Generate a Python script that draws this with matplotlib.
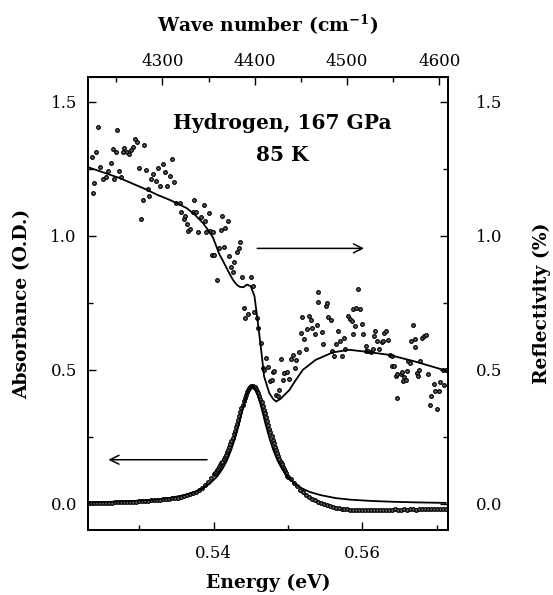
import numpy as np
import matplotlib.pyplot as plt
from matplotlib.ticker import MultipleLocator

plt.rcParams['font.family'] = 'DejaVu Serif'
plt.rcParams['mathtext.fontset'] = 'dejavuserif'

EV_TO_CM = 8065.54

# measured absorbance, sampled on an even energy grid (three segments)
abs_left_start, abs_left_step = 0.5232, 0.0004
abs_left = [0.002, 0.002, 0.003, 0.003, 0.004, 0.004, 0.005, 0.005, 0.005, 0.006,
            0.006, 0.007, 0.007, 0.008, 0.008, 0.009, 0.009, 0.010, 0.010, 0.011,
            0.012, 0.013, 0.014, 0.015, 0.016, 0.017, 0.018, 0.019, 0.021, 0.022,
            0.024, 0.026, 0.029, 0.032, 0.036, 0.040, 0.046, 0.053, 0.061, 0.071,
            0.083, 0.097, 0.112]
abs_peak_start, abs_peak_step = 0.54015, 0.00015
abs_peak = [0.115, 0.120, 0.126, 0.131, 0.138, 0.144, 0.151, 0.158, 0.166, 0.175,
            0.183, 0.193, 0.202, 0.213, 0.224, 0.235, 0.247, 0.260, 0.273, 0.286,
            0.300, 0.314, 0.328, 0.343, 0.357, 0.370, 0.384, 0.396, 0.407, 0.417,
            0.426, 0.432, 0.437, 0.440, 0.440, 0.438, 0.435, 0.429, 0.422, 0.413,
            0.402, 0.391, 0.379, 0.366, 0.352, 0.338, 0.325, 0.311, 0.296, 0.281,
            0.267, 0.252, 0.238, 0.226, 0.213, 0.201, 0.190, 0.178, 0.168, 0.158,
            0.149, 0.139, 0.130, 0.122, 0.114, 0.106, 0.100]
abs_right_start, abs_right_step = 0.5504, 0.0004
abs_right = [0.093, 0.079, 0.066, 0.054, 0.044, 0.035, 0.027, 0.020, 0.014, 0.008,
             0.003, -0.001, -0.005, -0.009, -0.012, -0.014, -0.016, -0.018, -0.019, -0.020,
             -0.021, -0.021, -0.022, -0.022, -0.022, -0.022, -0.021, -0.022, -0.022, -0.021,
             -0.021, -0.022, -0.021, -0.021, -0.021, -0.020, -0.021, -0.021, -0.020, -0.021,
             -0.020, -0.020, -0.021, -0.020, -0.020, -0.020, -0.019, -0.020, -0.020, -0.019,
             -0.020, -0.019, -0.019]

# absorbance fit
abs_fit_e = [0.5232, 0.5260, 0.5290, 0.5320, 0.5340, 0.5360, 0.5375, 0.5385, 0.5395, 0.5405,
             0.5412, 0.5418, 0.5424, 0.5429, 0.5434, 0.5438, 0.5442, 0.5446, 0.5449, 0.5452,
             0.5455, 0.5458, 0.5462, 0.5466, 0.5470, 0.5475, 0.5480, 0.5486, 0.5492, 0.5499,
             0.5509, 0.5519, 0.5529, 0.5544, 0.5564, 0.5584, 0.5614, 0.5644, 0.5672, 0.5712]
abs_fit = [0.006, 0.008, 0.011, 0.016, 0.022, 0.033, 0.045, 0.058, 0.076, 0.103,
           0.131, 0.162, 0.204, 0.247, 0.297, 0.341, 0.383, 0.418, 0.434, 0.440,
           0.434, 0.418, 0.383, 0.341, 0.297, 0.247, 0.204, 0.162, 0.131, 0.103,
           0.076, 0.058, 0.045, 0.033, 0.022, 0.016, 0.011, 0.008, 0.006, 0.004]

# measured reflectivity
refl_e = [0.52363, 0.52376, 0.52398, 0.52420, 0.52451, 0.52474, 0.52518, 0.52554, 0.52585, 0.52621,
          0.52652, 0.52661, 0.52688, 0.52705, 0.52732, 0.52751, 0.52778, 0.52795, 0.52831, 0.52862,
          0.52889, 0.52920, 0.52942, 0.52973, 0.53000, 0.53019, 0.53046, 0.53067, 0.53090, 0.53120,
          0.53134, 0.53166, 0.53187, 0.53233, 0.53260, 0.53277, 0.53321, 0.53353, 0.53375, 0.53420,
          0.53447, 0.53469, 0.53491, 0.53545, 0.53568, 0.53598, 0.53612, 0.53643, 0.53656, 0.53679,
          0.53723, 0.53736, 0.53768, 0.53790, 0.53835, 0.53866, 0.53880, 0.53902, 0.53937, 0.53956,
          0.53977, 0.53991, 0.54004, 0.54050, 0.54071, 0.54094, 0.54116, 0.54138, 0.54157, 0.54191,
          0.54214, 0.54237, 0.54258, 0.54281, 0.54312, 0.54339, 0.54357, 0.54384, 0.54406, 0.54424,
          0.54459, 0.54505, 0.54526, 0.54549, 0.54580, 0.54598, 0.54639, 0.54669, 0.54683, 0.54705,
          0.54727, 0.54759, 0.54786, 0.54794, 0.54817, 0.54839, 0.54870, 0.54884, 0.54906, 0.54928,
          0.54950, 0.54981, 0.55008, 0.55040, 0.55062, 0.55098, 0.55115, 0.55142, 0.55174, 0.55191,
          0.55218, 0.55241, 0.55262, 0.55285, 0.55308, 0.55329, 0.55359, 0.55386, 0.55410, 0.55410,
          0.55455, 0.55477, 0.55509, 0.55526, 0.55544, 0.55576, 0.55597, 0.55620, 0.55643, 0.55667,
          0.55693, 0.55727, 0.55747, 0.55771, 0.55810, 0.55834, 0.55857, 0.55868, 0.55878, 0.55901,
          0.55918, 0.55945, 0.55968, 0.55991, 0.56015, 0.56044, 0.56055, 0.56082, 0.56115, 0.56142,
          0.56162, 0.56175, 0.56202, 0.56229, 0.56258, 0.56280, 0.56296, 0.56320, 0.56347, 0.56365,
          0.56392, 0.56400, 0.56423, 0.56446, 0.56467, 0.56470, 0.56513, 0.56537, 0.56548, 0.56557,
          0.56580, 0.56601, 0.56614, 0.56644, 0.56660, 0.56684, 0.56704, 0.56713, 0.56735, 0.56751,
          0.56758, 0.56780, 0.56802, 0.56831, 0.56858, 0.56885, 0.56914, 0.56928, 0.56959, 0.56979,
          0.57003, 0.57032, 0.57048, 0.57086, 0.57102, 0.57122]
refl = [1.293, 1.159, 1.197, 1.314, 1.406, 1.256, 1.212, 1.218, 1.243, 1.271,
        1.324, 1.212, 1.312, 1.393, 1.243, 1.218, 1.314, 1.327, 1.312, 1.306,
        1.318, 1.331, 1.362, 1.349, 1.252, 1.062, 1.134, 1.337, 1.246, 1.175,
        1.150, 1.212, 1.231, 1.206, 1.252, 1.185, 1.268, 1.239, 1.185, 1.222,
        1.287, 1.202, 1.122, 1.122, 1.090, 1.062, 1.075, 1.044, 1.019, 1.025,
        1.088, 1.134, 1.088, 1.013, 1.069, 1.115, 1.056, 1.013, 1.084, 1.019,
        0.928, 1.013, 0.928, 0.835, 0.953, 1.021, 1.073, 0.959, 1.028, 1.056,
        0.925, 0.882, 0.865, 0.903, 0.938, 0.953, 0.975, 0.847, 0.730, 0.695,
        0.707, 0.848, 0.811, 0.716, 0.695, 0.657, 0.601, 0.508, 0.499, 0.545,
        0.511, 0.458, 0.464, 0.491, 0.495, 0.408, 0.401, 0.426, 0.541, 0.464,
        0.489, 0.491, 0.467, 0.541, 0.557, 0.508, 0.535, 0.566, 0.639, 0.698,
        0.614, 0.576, 0.654, 0.701, 0.686, 0.656, 0.632, 0.666, 0.790, 0.753,
        0.642, 0.595, 0.737, 0.751, 0.698, 0.686, 0.571, 0.550, 0.597, 0.645,
        0.608, 0.551, 0.620, 0.579, 0.700, 0.688, 0.683, 0.728, 0.632, 0.663,
        0.732, 0.803, 0.726, 0.670, 0.632, 0.570, 0.589, 0.571, 0.566, 0.576,
        0.626, 0.645, 0.607, 0.576, 0.605, 0.607, 0.638, 0.645, 0.611, 0.557,
        0.516, 0.551, 0.514, 0.479, 0.395, 0.486, 0.486, 0.491, 0.458, 0.475,
        0.462, 0.495, 0.532, 0.526, 0.607, 0.666, 0.616, 0.585, 0.489, 0.479,
        0.501, 0.532, 0.619, 0.625, 0.629, 0.486, 0.370, 0.401, 0.447, 0.423,
        0.354, 0.421, 0.455, 0.498, 0.443, 0.498]

# reflectivity fit
refl_fit_e = [0.5232, 0.5250, 0.5274, 0.5290, 0.5310, 0.5325, 0.5341, 0.5355, 0.5364, 0.5375,
              0.5386, 0.5393, 0.5399, 0.5408, 0.5412, 0.5419, 0.5426, 0.5431, 0.5435, 0.5440,
              0.5445, 0.5450, 0.5455, 0.5459, 0.5464, 0.5468, 0.5475, 0.5480, 0.5484, 0.5490,
              0.5502, 0.5510, 0.5520, 0.5537, 0.5560, 0.5582, 0.5604, 0.5636, 0.5671, 0.5715]
refl_fit = [1.255, 1.238, 1.215, 1.196, 1.172, 1.152, 1.134, 1.115, 1.103, 1.078,
            1.047, 1.020, 0.995, 0.930, 0.910, 0.872, 0.836, 0.818, 0.810, 0.808,
            0.818, 0.812, 0.775, 0.690, 0.575, 0.475, 0.413, 0.392, 0.382, 0.392,
            0.425, 0.460, 0.500, 0.537, 0.565, 0.575, 0.568, 0.556, 0.531, 0.495]


def grid(start, step, vals):
    return start + step * np.arange(len(vals))


abs_e = np.concatenate([grid(abs_left_start, abs_left_step, abs_left),
                        grid(abs_peak_start, abs_peak_step, abs_peak),
                        grid(abs_right_start, abs_right_step, abs_right)])
abs_data = np.array(abs_left + abs_peak + abs_right)

fig = plt.figure(figsize=(5.53, 5.95), dpi=100)
ax = fig.add_axes([88/553, 65/595, 360/553, 453/595])
axr = ax.twinx()

dot = dict(ls='none', marker='o', ms=2.6, mfc='#6a6a6a', mec='black', mew=0.9)
ax.plot(abs_e, abs_data, **dot)
ax.plot(abs_fit_e, abs_fit, color='black', lw=1.3)
axr.plot(refl_e, refl, **dot)
axr.plot(refl_fit_e, refl_fit, color='black', lw=1.3)

xlim = (0.52313, 0.57151)
ylim = (-0.097, 1.592)
ax.set_xlim(*xlim)
ax.set_ylim(*ylim)
axr.set_ylim(*ylim)

ax.xaxis.set_major_locator(MultipleLocator(0.02))
ax.xaxis.set_minor_locator(MultipleLocator(0.01))
for a in (ax, axr):
    a.yaxis.set_major_locator(MultipleLocator(0.5))
    a.yaxis.set_minor_locator(MultipleLocator(0.25))
    a.yaxis.set_major_formatter(plt.FormatStrFormatter('%.1f'))
ax.xaxis.set_major_formatter(plt.FormatStrFormatter('%.2f'))

ax.tick_params(which='both', direction='in', width=1.0, labelsize=12, top=False)
ax.tick_params(which='major', length=6)
ax.tick_params(which='minor', length=3.5)
ax.tick_params(axis='x', pad=11)
ax.tick_params(axis='y', pad=8)
axr.tick_params(which='both', direction='in', width=1.0, labelsize=12, pad=20)
axr.tick_params(which='major', length=6)
axr.tick_params(which='minor', length=3.5)

top = ax.secondary_xaxis('top', functions=(lambda e: e * EV_TO_CM, lambda w: w / EV_TO_CM))
top.xaxis.set_major_locator(MultipleLocator(100))
top.xaxis.set_minor_locator(MultipleLocator(50))
top.tick_params(which='both', direction='in', width=1.0, labelsize=12, pad=5)
top.tick_params(which='major', length=6)
top.tick_params(which='minor', length=3.5)

for a in (ax, axr):
    for s in a.spines.values():
        s.set_linewidth(1.3)

ax.set_xlabel('Energy (eV)', fontsize=13.5, fontweight='bold')
ax.xaxis.set_label_coords(0.5, -0.117)
ax.xaxis.label.set_va('center')
ax.set_ylabel('Absorbance (O.D.)', fontsize=13.5, fontweight='bold')
ax.yaxis.set_label_coords(-0.182, 0.5)
ax.yaxis.label.set_va('center')
axr.set_ylabel('Reflectivity (%)', fontsize=13.5, fontweight='bold', rotation=90)
axr.yaxis.set_label_coords(1.262, 0.5)
axr.yaxis.label.set_va('center')
fig.text(268/553, 1 - 25/595, 'Wave number (cm$^{\\mathbf{-1}}$)', ha='center', va='center',
         fontsize=13.5, fontweight='bold')

ax.text(0.5492, 1.422, 'Hydrogen, 167 GPa', ha='center', va='center',
        fontsize=14.5, fontweight='bold')
ax.text(0.5492, 1.302, '85 K', ha='center', va='center', fontsize=14.5, fontweight='bold')

arrow = dict(arrowstyle='->', lw=1.1, color='black', mutation_scale=16)
ax.annotate('', xy=(0.5606, 0.953), xytext=(0.5455, 0.953), arrowprops=arrow)
ax.annotate('', xy=(0.5255, 0.165), xytext=(0.5395, 0.165), arrowprops=arrow)

fig.savefig('out.png', dpi=100)
